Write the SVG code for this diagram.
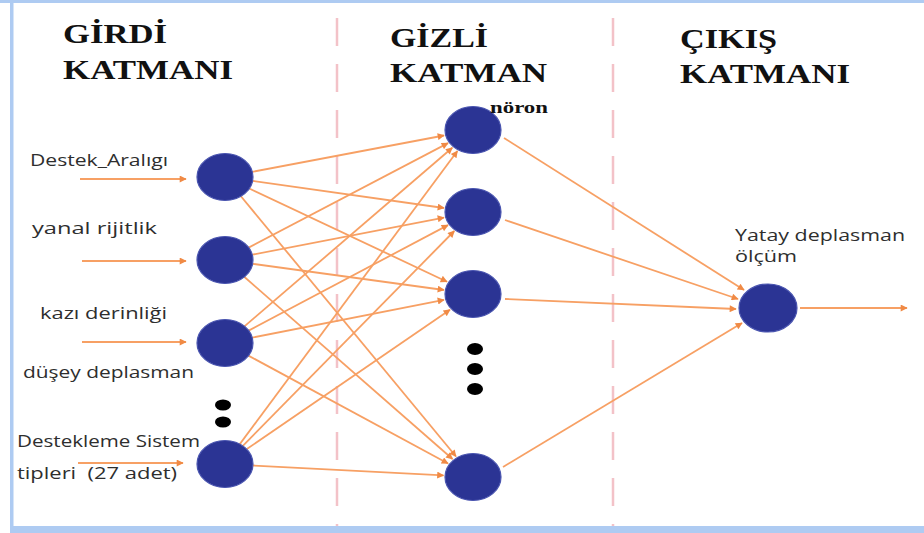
<svg xmlns="http://www.w3.org/2000/svg" width="924" height="533" viewBox="0 0 924 533">
<style>
.frame{fill:#aecbf2}
.sep{stroke:#f3c2c8;stroke-width:2.5;stroke-dasharray:28 18;fill:none}
.node{fill:#2b3494;stroke:#4a55b0;stroke-width:1.2}
.dot{fill:#000}
.conn line{stroke:#f7a064;stroke-width:1.8;marker-end:url(#arr)}
.head{font-family:"Liberation Serif","Times New Roman",serif;font-weight:bold;font-size:28px;fill:#111}
.note{font-family:"Liberation Serif","Times New Roman",serif;font-weight:bold;font-size:17px;fill:#111}
.lbl{font-family:"Open Sans","DejaVu Sans",sans-serif;font-size:16px;fill:#2e2e2e}
</style>
<defs>
<marker id="arr" viewBox="0 0 10 10" refX="9" refY="5" markerWidth="10" markerHeight="7" markerUnits="userSpaceOnUse" orient="auto">
<path d="M0,0 L10,5 L0,10 z" fill="#f08a45"/>
</marker>
</defs>
<rect width="924" height="533" fill="#fff"/>
<rect class="frame" x="0" y="0" width="924" height="3"/>
<rect class="frame" x="10" y="0" width="3.5" height="533"/>
<rect class="frame" x="10" y="526" width="914" height="7"/>
<line class="sep" x1="337" y1="18" x2="337" y2="526"/>
<line class="sep" x1="613" y1="18" x2="613" y2="526"/>
<g id="headings">
<text class="head" x="63" y="43" textLength="104" lengthAdjust="spacingAndGlyphs">GİRDİ</text>
<text class="head" x="63" y="79" textLength="170" lengthAdjust="spacingAndGlyphs">KATMANI</text>
<text class="head" x="390" y="47" textLength="98" lengthAdjust="spacingAndGlyphs">GİZLİ</text>
<text class="head" x="390" y="82" textLength="157" lengthAdjust="spacingAndGlyphs">KATMAN</text>
<text class="head" x="680" y="48" textLength="97" lengthAdjust="spacingAndGlyphs">ÇIKIŞ</text>
<text class="head" x="680" y="83" textLength="170" lengthAdjust="spacingAndGlyphs">KATMANI</text>
</g>
<g id="connectors" class="conn">
<line x1="80" y1="179" x2="186" y2="179"/>
<line x1="82" y1="261" x2="186" y2="261"/>
<line x1="82" y1="342" x2="186" y2="342"/>
<line x1="78" y1="463" x2="183" y2="463"/>
<line x1="252.3" y1="171.8" x2="444" y2="135.5"/>
<line x1="252.6" y1="180.9" x2="444" y2="208"/>
<line x1="249.3" y1="188.5" x2="447" y2="281.7"/>
<line x1="240.7" y1="196" x2="456" y2="456.5"/>
<line x1="248.6" y1="247.6" x2="448" y2="143.1"/>
<line x1="252.3" y1="254.7" x2="444" y2="217.6"/>
<line x1="252.6" y1="263.8" x2="444" y2="290"/>
<line x1="244.2" y1="276.8" x2="452.5" y2="459"/>
<line x1="244.4" y1="326.4" x2="452.3" y2="147.7"/>
<line x1="248.6" y1="330.6" x2="448" y2="225.1"/>
<line x1="252.2" y1="337.6" x2="444" y2="299.8"/>
<line x1="248.4" y1="355.6" x2="448" y2="463.5"/>
<line x1="239.6" y1="444.4" x2="457.4" y2="151"/>
<line x1="242.6" y1="446.1" x2="454.3" y2="231"/>
<line x1="246.5" y1="449.3" x2="450" y2="309.7"/>
<line x1="252.9" y1="465.5" x2="443.5" y2="475.4"/>
<line x1="504" y1="138" x2="744" y2="290"/>
<line x1="505" y1="220" x2="738" y2="299"/>
<line x1="505" y1="299" x2="736" y2="309"/>
<line x1="503" y1="467" x2="742" y2="323"/>
<line x1="800" y1="308" x2="907" y2="308"/>
</g>
<g id="in1"><ellipse class="node" cx="225" cy="177" rx="28" ry="23.5"/><text class="lbl" x="30" y="166" textLength="138" lengthAdjust="spacingAndGlyphs">Destek_Aralıgı</text></g>
<g id="in2"><ellipse class="node" cx="225" cy="260" rx="28" ry="23.5"/><text class="lbl" x="32" y="234" textLength="125" lengthAdjust="spacingAndGlyphs">yanal rijitlik</text></g>
<g id="in3"><ellipse class="node" cx="225" cy="343" rx="28" ry="23.5"/><text class="lbl" x="40" y="319" textLength="127" lengthAdjust="spacingAndGlyphs">kazı derinliği</text><text class="lbl" x="23" y="378" textLength="171" lengthAdjust="spacingAndGlyphs">düşey deplasman</text></g>
<g id="in-dots"><ellipse class="dot" cx="223" cy="405" rx="8" ry="5.5"/><ellipse class="dot" cx="223" cy="422" rx="8" ry="5.5"/></g>
<g id="in4"><ellipse class="node" cx="225" cy="464" rx="28" ry="23.5"/><text class="lbl" x="17" y="447" textLength="183" lengthAdjust="spacingAndGlyphs">Destekleme Sistem</text><text class="lbl" x="17" y="479" textLength="160" lengthAdjust="spacingAndGlyphs" style="white-space:pre">tipleri  (27 adet)</text></g>
<g id="h1"><ellipse class="node" cx="473" cy="130" rx="28" ry="23.5"/><text class="note" x="490" y="113" textLength="58" lengthAdjust="spacingAndGlyphs">nöron</text></g>
<g id="h2"><ellipse class="node" cx="473" cy="212" rx="28" ry="23.5"/></g>
<g id="h3"><ellipse class="node" cx="473" cy="294" rx="28" ry="23.5"/></g>
<g id="h-dots"><ellipse class="dot" cx="475" cy="349" rx="8" ry="6"/><ellipse class="dot" cx="475" cy="369" rx="8" ry="6"/><ellipse class="dot" cx="475" cy="389" rx="8" ry="6"/></g>
<g id="h4"><ellipse class="node" cx="473" cy="477" rx="28" ry="23.5"/></g>
<g id="out"><ellipse class="node" cx="768" cy="308" rx="29" ry="24"/><text class="lbl" x="735" y="241" textLength="170" lengthAdjust="spacingAndGlyphs">Yatay deplasman</text><text class="lbl" x="735" y="262" textLength="62" lengthAdjust="spacingAndGlyphs">ölçüm</text></g>
</svg>
